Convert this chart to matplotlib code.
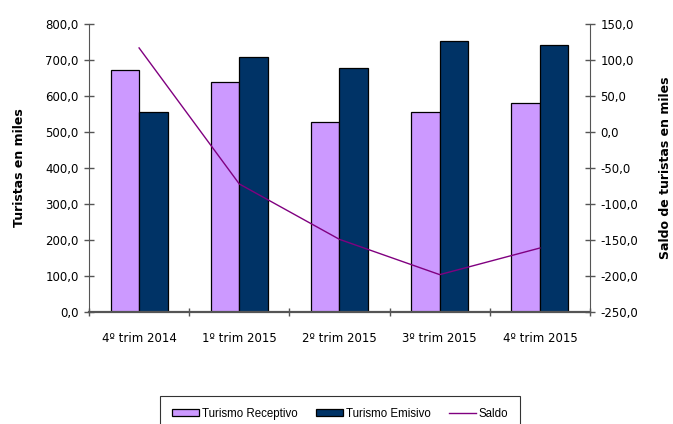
import numpy as np
import matplotlib.pyplot as plt
from matplotlib.patches import Patch
from matplotlib.lines import Line2D

# Data
trimestres = ["4º trim 2014", "1º trim 2015", "2º trim 2015", "3º trim 2015", "4º trim 2015"]
receptivo = [672, 638, 528, 555, 580]
emisivo = [555, 710, 677, 753, 741]
saldo = [117, -72, -149, -198, -161]

col_rec = "#CC99FF"
col_emi = "#003366"
col_saldo = "#800080"
axis_col = "#555555"

plt.rcParams['font.family'] = ['DejaVu Sans']

fig = plt.figure(figsize=(6.73, 4.24), dpi=100)
ax = fig.add_axes([0.1322, 0.264, 0.7445, 0.679])

x = np.arange(len(trimestres))
w = 0.285
ax.bar(x - w / 2, receptivo, w, color=col_rec, edgecolor="black", linewidth=0.9, zorder=2)
ax.bar(x + w / 2, emisivo, w, color=col_emi, edgecolor="black", linewidth=0.9, zorder=2)

ax.set_xlim(-0.5, len(trimestres) - 0.5)
ax.set_ylim(0, 800)
ax.set_yticks(np.arange(0, 801, 100))
ax.set_yticklabels([f"{v:.1f}".replace(".", ",") for v in np.arange(0, 801, 100)], fontsize=8.5)
ax.set_xticks(x)
ax.set_xticklabels(trimestres, fontsize=8.5)
ax.tick_params(axis="x", length=0, pad=14)
ax.set_xticks(np.arange(-0.5, len(trimestres), 1), minor=True)
ax.tick_params(axis="x", which="minor", length=6, direction="inout", color=axis_col, width=1)
ax.tick_params(axis="y", length=7, direction="inout", color=axis_col, width=1, pad=4)
ax.set_ylabel("Turistas en miles", fontsize=9, fontweight="bold", labelpad=14)

ax.spines["top"].set_visible(False)
ax.spines["right"].set_visible(False)
ax.spines["left"].set_color(axis_col)
ax.spines["bottom"].set_color(axis_col)
ax.spines["bottom"].set_linewidth(1.6)

ax2 = ax.twinx()
ax2.plot(x, saldo, color=col_saldo, linewidth=1.0, zorder=3)
ax2.set_ylim(-250, 150)
rt = np.arange(-250, 151, 50)
ax2.set_yticks(rt)
ax2.set_yticklabels([f"{v:.1f}".replace(".", ",") for v in rt], fontsize=8.5)
ax2.tick_params(axis="y", length=7, direction="inout", color=axis_col, width=1, pad=4)
ax2.set_ylabel("Saldo de turistas en miles", fontsize=9, fontweight="bold", labelpad=15)
for s in ["top", "left", "bottom"]:
    ax2.spines[s].set_visible(False)
ax2.spines["right"].set_color(axis_col)

handles = [
    Patch(facecolor=col_rec, edgecolor="black", linewidth=0.9),
    Patch(facecolor=col_emi, edgecolor="black", linewidth=0.9),
    Line2D([], [], color=col_saldo, linewidth=1.0),
]
leg = fig.legend(handles, ["Turismo Receptivo", "Turismo Emisivo", "Saldo"],
                 loc="upper left", bbox_to_anchor=(160 / 673, 1 - 396 / 424),
                 ncol=3, frameon=True, fancybox=False,
                 prop={"family": "Liberation Sans", "size": 8.3},
                 handlelength=2.4, handleheight=0.65, columnspacing=1.6,
                 borderpad=1.0, handletextpad=0.2, borderaxespad=0)
leg.get_frame().set_edgecolor("black")
leg.get_frame().set_linewidth(0.8)

fig.savefig("out.png", dpi=100)
